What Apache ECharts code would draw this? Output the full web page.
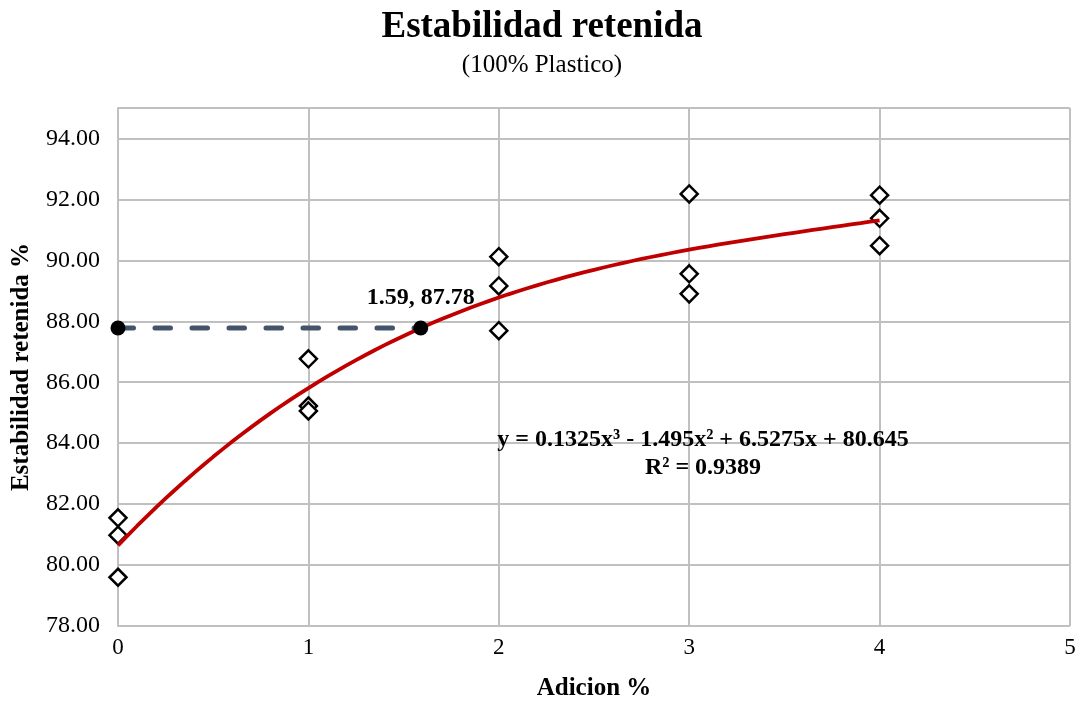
<!DOCTYPE html>
<html><head><meta charset="utf-8">
<script src="https://cdn.jsdelivr.net/npm/echarts@6/dist/echarts.min.js"></script>
<style>html,body{margin:0;padding:0;background:#fff}#c{width:1084px;height:704px}</style>
</head><body><div id="c"></div>
<script>
const xAdicion = [0,0,0, 1,1,1, 2,2,2, 3,3,3, 4,4,4];
const yEstabilidad = [81.55,80.98,79.6, 86.77,85.22,85.06, 90.12,89.16,87.69, 92.18,89.56,88.9, 92.14,91.38,90.48];
const trendCoef = [80.645, 6.5275, -1.495, 0.1325]; // from the chart's equation
const markX = 1.59, markY = 87.78;
const yTicks = [78,80,82,84,86,88,90,92,94];

const pts = xAdicion.map((x,i)=>[x,yEstabilidad[i]]);
const trend = [];
for (let i=0;i<=80;i++){const x=i*0.05;trend.push([x,trendCoef[0]+trendCoef[1]*x+trendCoef[2]*x*x+trendCoef[3]*x*x*x]);}
const serif = '"Liberation Serif","Times New Roman",serif';

const chart = echarts.init(document.getElementById('c'));
chart.setOption({
  animation:false,
  title:[
    {text:'Estabilidad retenida',left:'center',top:4,textStyle:{fontFamily:serif,fontSize:37,fontWeight:'bold',color:'#000'}},
    {text:'(100% Plastico)',left:'center',top:48,textStyle:{fontFamily:serif,fontSize:25,fontWeight:'normal',color:'#000'}}
  ],
  grid:{left:118,right:14,top:108,bottom:78,outerBoundsMode:'none',containLabel:false},
  xAxis:{type:'value',min:0,max:5,interval:1,
    name:'Adicion %',nameLocation:'middle',nameGap:50,
    nameTextStyle:{fontFamily:serif,fontSize:25,fontWeight:'bold',color:'#000'},
    axisLine:{show:false},axisTick:{show:false},
    axisLabel:{fontFamily:serif,fontSize:23,color:'#000',margin:10},
    splitLine:{show:true,lineStyle:{color:'#c0c0c0',width:2}}},
  yAxis:{type:'value',min:78,max:95,interval:2,
    name:'Estabilidad retenida %',nameLocation:'middle',nameGap:84,
    nameTextStyle:{fontFamily:serif,fontSize:25,fontWeight:'bold',color:'#000'},
    axisLine:{show:true,lineStyle:{color:'#c0c0c0',width:2}},axisTick:{show:false},
    axisLabel:{fontFamily:serif,fontSize:24,color:'#000',margin:18,
      formatter:v=>yTicks.indexOf(v)>=0?v.toFixed(2):''},
    splitLine:{show:true,lineStyle:{color:'#c0c0c0',width:2}}},
  series:[
    {type:'line',data:[[0,markY],[markX,markY]],symbol:'none',z:3,
      lineStyle:{color:'#44546A',width:5,type:[15.5,21.5],cap:'round'}},
    {type:'scatter',data:pts,symbol:'diamond',symbolSize:[17,17],z:4,
      itemStyle:{color:'#fff',borderColor:'#000',borderWidth:2.5,opacity:1}},
    {type:'line',data:trend,symbol:'none',smooth:false,z:5,
      lineStyle:{color:'#C00000',width:3.8}},
    {type:'scatter',data:[[0,markY],[markX,markY]],symbol:'circle',symbolSize:15,z:6,
      itemStyle:{color:'#000',opacity:1},
      label:{show:true,position:'top',distance:11,fontFamily:serif,fontSize:24,fontWeight:'bold',color:'#000',
        formatter:p=>p.dataIndex===1?markX.toFixed(2)+', '+markY.toFixed(2):''}}
  ],
  graphic:[
    {type:'text',x:703,y:426,z:10,style:{text:'y = 0.1325x³ - 1.495x² + 6.5275x + 80.645\nR² = 0.9389',
      font:'bold 24px '+serif,fill:'#000',align:'center',verticalAlign:'top',lineHeight:28}}
  ]
});
</script></body></html>
